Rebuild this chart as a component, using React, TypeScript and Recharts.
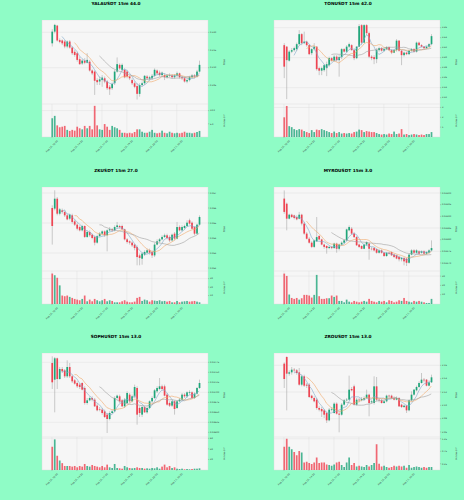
import React from "react";
import { ComposedChart, Bar, Line, XAxis, YAxis, CartesianGrid } from "recharts";

// 60 candles of 15m each, axis ticks every 10 candles
const TIME_TICKS = [0, 10, 20, 30, 40, 50];
const TIME_LABELS = ["Aug 16, 12:00", "Aug 16, 14:30", "Aug 16, 17:00", "Aug 16, 19:30", "Aug 16, 22:00", "Aug 17, 00:30"];

const YALA_OPEN = [0.2169,0.2202,0.2219,0.2178,0.2177,0.2174,0.2160,0.2174,0.2157,0.2145,0.2141,0.2124,0.2112,0.2120,0.2114,0.2117,0.2092,0.2089,0.2065,0.2061,0.2065,0.2070,0.2061,0.2046,0.2042,0.2056,0.2089,0.2108,0.2094,0.2094,0.2089,0.2075,0.2065,0.2056,0.2048,0.2026,0.2051,0.2056,0.2075,0.2069,0.2070,0.2077,0.2092,0.2086,0.2079,0.2079,0.2073,0.2077,0.2078,0.2073,0.2078,0.2084,0.2073,0.2070,0.2061,0.2065,0.2073,0.2078,0.2075,0.2089];
const YALA_CLOSE = [0.2202,0.2221,0.2177,0.2173,0.2169,0.2160,0.2174,0.2157,0.2141,0.2136,0.2122,0.2110,0.2120,0.2114,0.2122,0.2092,0.2084,0.2063,0.2059,0.2067,0.2072,0.2061,0.2042,0.2039,0.2054,0.2089,0.2110,0.2098,0.2108,0.2073,0.2075,0.2070,0.2056,0.2046,0.2026,0.2051,0.2056,0.2077,0.2070,0.2073,0.2077,0.2094,0.2084,0.2079,0.2086,0.2073,0.2078,0.2079,0.2073,0.2078,0.2084,0.2073,0.2070,0.2061,0.2065,0.2073,0.2078,0.2075,0.2089,0.2108];
const YALA_HIGH = [0.2209,0.2224,0.2221,0.2183,0.2180,0.2178,0.2177,0.2178,0.2160,0.2150,0.2145,0.2131,0.2124,0.2127,0.2141,0.2122,0.2095,0.2092,0.2070,0.2075,0.2079,0.2075,0.2065,0.2051,0.2058,0.2094,0.2129,0.2112,0.2112,0.2098,0.2094,0.2079,0.2070,0.2061,0.2056,0.2056,0.2061,0.2079,0.2079,0.2077,0.2082,0.2098,0.2095,0.2092,0.2089,0.2084,0.2082,0.2084,0.2082,0.2082,0.2089,0.2086,0.2077,0.2075,0.2069,0.2077,0.2082,0.2082,0.2094,0.2120];
const YALA_LOW = [0.2160,0.2197,0.2174,0.2169,0.2164,0.2155,0.2155,0.2154,0.2136,0.2131,0.2117,0.2108,0.2108,0.2110,0.2112,0.2089,0.2079,0.2023,0.2051,0.2051,0.2046,0.2056,0.2037,0.2023,0.2037,0.2051,0.2086,0.2094,0.2089,0.2070,0.2070,0.2065,0.2051,0.2042,0.2010,0.2018,0.2046,0.2051,0.2065,0.2063,0.2065,0.2073,0.2079,0.2075,0.2073,0.2065,0.2069,0.2073,0.2069,0.2069,0.2073,0.2069,0.2065,0.2058,0.2056,0.2061,0.2070,0.2070,0.2072,0.2086];
const YALA_VOL = [7.1,8.0,4.4,3.7,3.9,4.2,2.7,2.3,2.7,2.4,3.9,3.3,2.9,4.2,3.3,4.2,2.9,11.8,4.4,2.9,2.7,4.9,3.9,2.7,4.2,3.7,3.3,2.7,1.6,1.6,1.4,1.6,1.4,1.9,2.9,2.9,2.0,1.6,1.6,2.0,2.7,1.6,1.4,1.6,2.4,1.6,1.4,2.0,1.6,1.4,1.6,1.4,1.6,2.0,1.6,1.6,1.4,1.6,1.9,2.3];

const TON_OPEN = [3.425,3.422,3.394,3.412,3.415,3.417,3.427,3.447,3.429,3.432,3.425,3.409,3.417,3.422,3.379,3.374,3.375,3.379,3.385,3.399,3.394,3.402,3.395,3.401,3.417,3.412,3.422,3.425,3.415,3.399,3.422,3.465,3.430,3.465,3.449,3.402,3.401,3.397,3.415,3.419,3.414,3.417,3.421,3.415,3.410,3.415,3.434,3.414,3.405,3.410,3.407,3.414,3.417,3.412,3.430,3.425,3.422,3.419,3.422,3.427];
const TON_CLOSE = [3.382,3.395,3.412,3.415,3.419,3.427,3.447,3.429,3.432,3.425,3.407,3.417,3.422,3.377,3.374,3.379,3.385,3.387,3.399,3.394,3.402,3.395,3.401,3.417,3.412,3.422,3.427,3.415,3.399,3.422,3.463,3.430,3.465,3.449,3.402,3.399,3.397,3.415,3.419,3.414,3.417,3.421,3.415,3.410,3.415,3.434,3.414,3.405,3.410,3.407,3.414,3.417,3.412,3.430,3.425,3.422,3.419,3.422,3.427,3.443];
const TON_HIGH = [3.429,3.423,3.415,3.419,3.422,3.430,3.455,3.449,3.452,3.434,3.427,3.419,3.429,3.423,3.382,3.382,3.387,3.392,3.402,3.401,3.405,3.405,3.405,3.419,3.419,3.425,3.430,3.427,3.419,3.423,3.467,3.467,3.467,3.467,3.452,3.405,3.405,3.419,3.422,3.421,3.419,3.423,3.422,3.417,3.417,3.437,3.435,3.415,3.412,3.412,3.415,3.419,3.419,3.432,3.432,3.427,3.423,3.423,3.429,3.447];
const TON_LOW = [3.359,3.317,3.392,3.409,3.412,3.414,3.425,3.425,3.427,3.422,3.405,3.405,3.414,3.374,3.365,3.365,3.372,3.363,3.382,3.392,3.392,3.392,3.362,3.397,3.410,3.410,3.419,3.414,3.395,3.397,3.421,3.427,3.429,3.445,3.399,3.395,3.387,3.389,3.412,3.412,3.412,3.415,3.414,3.407,3.409,3.412,3.412,3.385,3.402,3.405,3.405,3.412,3.410,3.410,3.423,3.421,3.417,3.417,3.421,3.425];
const TON_VOL = [2.0,3.15,1.1,1.0,0.8,0.7,0.8,0.75,0.6,0.5,0.4,0.7,0.5,0.75,0.7,0.8,0.7,0.6,0.5,0.4,0.55,0.4,0.5,0.35,0.4,0.35,0.4,0.35,0.5,0.55,0.75,0.7,0.5,0.6,0.55,0.5,0.5,0.4,0.3,0.25,0.3,0.25,0.35,0.3,0.55,0.3,0.35,0.8,0.25,0.3,0.2,0.25,0.3,0.25,0.2,0.25,0.2,0.3,0.3,0.5];

const ZK_OPEN = [0.06600,0.06596,0.06662,0.06562,0.06584,0.06573,0.06551,0.06529,0.06551,0.06511,0.06489,0.06473,0.06451,0.06480,0.06407,0.06440,0.06422,0.06407,0.06369,0.06413,0.06429,0.06444,0.06418,0.06451,0.06458,0.06451,0.06473,0.06480,0.06480,0.06458,0.06391,0.06378,0.06369,0.06356,0.06340,0.06284,0.06262,0.06289,0.06302,0.06318,0.06307,0.06284,0.06356,0.06378,0.06391,0.06407,0.06418,0.06407,0.06384,0.06429,0.06396,0.06473,0.06451,0.06467,0.06480,0.06518,0.06502,0.06473,0.06429,0.06489];
const ZK_CLOSE = [0.06480,0.06662,0.06562,0.06591,0.06573,0.06551,0.06524,0.06556,0.06507,0.06489,0.06462,0.06451,0.06480,0.06407,0.06440,0.06418,0.06400,0.06369,0.06413,0.06429,0.06444,0.06418,0.06451,0.06458,0.06451,0.06473,0.06484,0.06473,0.06458,0.06391,0.06373,0.06369,0.06351,0.06333,0.06273,0.06267,0.06296,0.06307,0.06318,0.06302,0.06284,0.06356,0.06378,0.06391,0.06407,0.06418,0.06400,0.06384,0.06422,0.06396,0.06473,0.06451,0.06473,0.06480,0.06502,0.06496,0.06462,0.06429,0.06489,0.06540];
const ZK_HIGH = [0.06618,0.06718,0.06673,0.06600,0.06596,0.06584,0.06562,0.06562,0.06562,0.06524,0.06502,0.06484,0.06489,0.06484,0.06451,0.06451,0.06429,0.06418,0.06422,0.06440,0.06451,0.06451,0.06458,0.06473,0.06467,0.06484,0.06507,0.06489,0.06489,0.06462,0.06400,0.06384,0.06378,0.06362,0.06351,0.06296,0.06302,0.06318,0.06329,0.06329,0.06318,0.06369,0.06391,0.06400,0.06418,0.06429,0.06429,0.06418,0.06429,0.06440,0.06507,0.06484,0.06484,0.06489,0.06518,0.06529,0.06511,0.06480,0.06496,0.06551];
const ZK_LOW = [0.06356,0.06584,0.06551,0.06551,0.06562,0.06540,0.06518,0.06518,0.06496,0.06480,0.06451,0.06444,0.06444,0.06400,0.06400,0.06407,0.06391,0.06351,0.06362,0.06407,0.06418,0.06407,0.06311,0.06444,0.06440,0.06444,0.06462,0.06462,0.06451,0.06384,0.06362,0.06356,0.06340,0.06318,0.06218,0.06218,0.06222,0.06280,0.06296,0.06289,0.06267,0.06273,0.06351,0.06369,0.06384,0.06400,0.06391,0.06373,0.06378,0.06384,0.06391,0.06444,0.06444,0.06458,0.06473,0.06489,0.06458,0.06418,0.06422,0.06484];
const ZK_VOL = [36,34,31,22,10,9.2,10,8.4,7.2,6.0,5.2,4.4,6.0,10,3.2,5.2,3.2,6.0,4.4,3.2,4.4,6.0,3.2,4.4,3.6,2.0,2.0,2.0,3.2,4.4,2.8,2.0,2.0,2.8,7.2,8.4,3.6,5.2,4.4,2.8,4.4,4.0,3.6,4.4,3.2,3.6,2.8,3.6,2.0,2.0,3.6,2.0,2.8,3.2,3.6,2.8,3.2,3.6,2.8,2.0];

const MYRO_OPEN = [0.022976,0.022954,0.022890,0.022907,0.022904,0.022897,0.022890,0.022907,0.022869,0.022826,0.022804,0.022787,0.022769,0.022793,0.022816,0.022801,0.022779,0.022773,0.022764,0.022769,0.022764,0.022783,0.022761,0.022779,0.022787,0.022797,0.022840,0.022847,0.022826,0.022811,0.022779,0.022773,0.022761,0.022779,0.022783,0.022761,0.022764,0.022759,0.022744,0.022754,0.022744,0.022730,0.022744,0.022747,0.022736,0.022733,0.022726,0.022716,0.022721,0.022719,0.022701,0.022736,0.022754,0.022744,0.022750,0.022744,0.022750,0.022740,0.022744,0.022754];
const MYRO_CLOSE = [0.022919,0.022890,0.022907,0.022897,0.022893,0.022887,0.022907,0.022869,0.022826,0.022804,0.022787,0.022769,0.022797,0.022811,0.022801,0.022779,0.022769,0.022764,0.022769,0.022764,0.022783,0.022761,0.022779,0.022787,0.022797,0.022844,0.022854,0.022826,0.022811,0.022776,0.022769,0.022761,0.022779,0.022790,0.022761,0.022759,0.022754,0.022744,0.022754,0.022744,0.022730,0.022744,0.022740,0.022733,0.022726,0.022719,0.022716,0.022721,0.022707,0.022701,0.022736,0.022754,0.022744,0.022754,0.022740,0.022750,0.022740,0.022747,0.022754,0.022764];
const MYRO_HIGH = [0.023011,0.022959,0.022911,0.022911,0.022907,0.022904,0.022919,0.022911,0.022876,0.022833,0.022811,0.022793,0.022801,0.022897,0.022819,0.022804,0.022783,0.022776,0.022773,0.022773,0.022787,0.022787,0.022783,0.022793,0.022801,0.022847,0.022861,0.022854,0.022833,0.022816,0.022783,0.022776,0.022783,0.022793,0.022787,0.022769,0.022769,0.022761,0.022759,0.022759,0.022747,0.022747,0.022747,0.022750,0.022740,0.022736,0.022730,0.022726,0.022726,0.022721,0.022740,0.022759,0.022759,0.022759,0.022754,0.022754,0.022754,0.022750,0.022759,0.022797];
const MYRO_LOW = [0.022911,0.022840,0.022887,0.022893,0.022887,0.022883,0.022887,0.022861,0.022821,0.022801,0.022783,0.022764,0.022764,0.022790,0.022797,0.022776,0.022761,0.022740,0.022759,0.022759,0.022761,0.022744,0.022754,0.022776,0.022783,0.022793,0.022836,0.022821,0.022807,0.022773,0.022764,0.022759,0.022759,0.022773,0.022714,0.022754,0.022750,0.022740,0.022740,0.022740,0.022726,0.022726,0.022736,0.022730,0.022721,0.022716,0.022707,0.022707,0.022690,0.022687,0.022697,0.022733,0.022740,0.022740,0.022736,0.022740,0.022736,0.022736,0.022740,0.022750];
const MYRO_VOL = [32.7,30.2,10.2,6.5,5.5,6.5,4.7,6.2,9.8,9.8,9.1,6.9,9.8,31.3,8.4,5.5,5.5,6.2,6.2,9.1,7.6,9.1,3.3,3.3,1.8,4.7,2.5,1.8,3.3,2.5,1.8,2.5,3.3,2.5,5.5,3.3,2.5,1.8,3.3,2.5,3.3,1.8,4.0,3.3,1.8,2.5,4.0,3.3,6.5,3.3,2.5,1.8,3.3,2.5,3.3,2.5,1.8,1.1,1.1,5.5];

const SOPH_OPEN = [0.037733,0.037317,0.037850,0.037333,0.037583,0.037550,0.037400,0.037633,0.037400,0.037300,0.037233,0.037192,0.037233,0.037108,0.036733,0.036800,0.036858,0.036817,0.036667,0.036583,0.036567,0.036525,0.036442,0.036333,0.036483,0.036525,0.036858,0.036900,0.036800,0.036650,0.036733,0.036942,0.036775,0.036900,0.037108,0.036608,0.036442,0.036633,0.036500,0.036608,0.036775,0.036858,0.037025,0.037083,0.037150,0.037150,0.036942,0.036733,0.036667,0.036775,0.036608,0.036775,0.036817,0.036942,0.036900,0.036983,0.037000,0.036858,0.036967,0.037108];
const SOPH_CLOSE = [0.037250,0.037850,0.037333,0.037583,0.037525,0.037400,0.037633,0.037400,0.037275,0.037217,0.037150,0.037133,0.037067,0.036733,0.036800,0.036858,0.036817,0.036650,0.036550,0.036567,0.036483,0.036383,0.036333,0.036483,0.036525,0.036858,0.036917,0.036775,0.036650,0.036817,0.036983,0.036775,0.036900,0.037133,0.036442,0.036483,0.036633,0.036500,0.036608,0.036775,0.036858,0.037050,0.037108,0.037150,0.037083,0.036917,0.036692,0.036667,0.036775,0.036583,0.036775,0.036817,0.036942,0.036900,0.037000,0.037000,0.036858,0.036967,0.037108,0.037233];
const SOPH_HIGH = [0.037900,0.037883,0.037867,0.037633,0.037633,0.037583,0.037800,0.037733,0.037442,0.037333,0.037275,0.037233,0.037250,0.037150,0.036858,0.036900,0.036900,0.036858,0.036717,0.036633,0.036608,0.036567,0.036483,0.036525,0.036567,0.036900,0.036942,0.036942,0.036833,0.036858,0.037025,0.036983,0.036942,0.037192,0.037150,0.036650,0.036667,0.036667,0.036650,0.036800,0.036900,0.037083,0.037150,0.037358,0.037192,0.037192,0.036983,0.036775,0.036800,0.036800,0.036800,0.036858,0.036983,0.036983,0.037025,0.037050,0.037025,0.037000,0.037133,0.037317];
const SOPH_LOW = [0.037083,0.036500,0.037083,0.037317,0.037483,0.037358,0.037358,0.037358,0.037233,0.037192,0.037108,0.037083,0.037050,0.036692,0.036692,0.036775,0.036775,0.036633,0.036525,0.036525,0.036442,0.036358,0.035983,0.036300,0.036467,0.036500,0.036817,0.036733,0.036633,0.036608,0.036692,0.036733,0.036750,0.036858,0.036192,0.036383,0.036383,0.036483,0.036467,0.036583,0.036733,0.036833,0.036983,0.037050,0.037050,0.036900,0.036667,0.036633,0.036633,0.036442,0.036583,0.036750,0.036800,0.036858,0.036858,0.036942,0.036833,0.036833,0.036942,0.037083];
const SOPH_VOL = [44,58,27,18,13,7.6,7.6,7.6,6.4,7.6,5.1,7.6,6.4,11.4,7.6,6.4,9.5,7.6,6.4,5.1,7.6,5.1,10.2,5.1,3.8,11.4,3.8,3.2,2.5,7.6,5.1,3.8,3.2,3.8,5.1,3.8,3.8,2.5,3.2,2.5,3.8,3.2,5.1,2.5,6.4,10.2,5.1,7.6,3.8,5.1,2.5,1.9,2.5,1.3,1.9,1.3,1.9,2.5,2.5,3.2];

const ZRO_OPEN = [2.1625,2.1725,2.1475,2.1495,2.1535,2.1525,2.1495,2.1310,2.1435,2.1310,2.1310,2.1145,2.1110,2.1085,2.0960,2.0945,2.0925,2.0885,2.0775,2.0935,2.0885,2.1025,2.0875,2.0860,2.1010,2.1075,2.1085,2.1245,2.1285,2.1010,2.1085,2.1075,2.1085,2.1110,2.1160,2.1045,2.1035,2.1285,2.1085,2.1075,2.1035,2.1060,2.1145,2.1145,2.1110,2.1085,2.1110,2.1010,2.0975,2.0995,2.0925,2.1075,2.1160,2.1225,2.1275,2.1335,2.1385,2.1385,2.1295,2.1345];
const ZRO_CLOSE = [2.1395,2.1475,2.1495,2.1535,2.1525,2.1485,2.1310,2.1435,2.1295,2.1295,2.1125,2.1110,2.1060,2.0960,2.0935,2.0910,2.0860,2.0775,2.0935,2.0945,2.1025,2.0875,2.0860,2.1010,2.1075,2.1085,2.1235,2.1225,2.1010,2.1085,2.1075,2.1095,2.1110,2.1160,2.1035,2.1060,2.1285,2.1085,2.1075,2.1035,2.1060,2.1145,2.1135,2.1110,2.1085,2.1110,2.0985,2.0975,2.0995,2.0925,2.1075,2.1160,2.1235,2.1275,2.1335,2.1385,2.1375,2.1295,2.1345,2.1420];
const ZRO_HIGH = [2.1645,2.1735,2.1525,2.1575,2.1560,2.1545,2.1560,2.1460,2.1460,2.1335,2.1335,2.1160,2.1135,2.1110,2.0985,2.0975,2.0945,2.0910,2.0960,2.0975,2.1045,2.1045,2.0910,2.1035,2.1095,2.1110,2.1445,2.1275,2.1310,2.1110,2.1110,2.1125,2.1135,2.1235,2.1175,2.1085,2.1435,2.1425,2.1110,2.1095,2.1085,2.1160,2.1160,2.1160,2.1135,2.1135,2.1125,2.1025,2.1010,2.1010,2.1085,2.1210,2.1245,2.1295,2.1360,2.1485,2.1410,2.1395,2.1375,2.1460];
const ZRO_LOW = [2.1260,2.0925,2.1445,2.1460,2.1495,2.1460,2.1295,2.1285,2.1275,2.1260,2.1110,2.1085,2.1045,2.0935,2.0910,2.0825,2.0810,2.0735,2.0760,2.0910,2.0875,2.0860,2.0595,2.0845,2.0995,2.1060,2.1075,2.1210,2.0995,2.0995,2.1045,2.1060,2.1075,2.1095,2.0835,2.1025,2.1010,2.1060,2.1045,2.1025,2.1025,2.1045,2.1110,2.1095,2.1075,2.1075,2.0975,2.0960,2.0960,2.0885,2.0910,2.1060,2.1145,2.1210,2.1260,2.1325,2.1345,2.1285,2.1285,2.1335];
const ZRO_VOL = [0.93,1.25,0.93,0.83,0.72,0.59,0.76,0.70,0.30,0.33,0.28,0.24,0.30,0.50,0.28,0.30,0.30,0.22,0.20,0.17,0.22,0.30,0.33,0.20,0.12,0.30,0.50,0.20,0.28,0.14,0.17,0.14,0.12,0.20,0.14,0.20,0.28,1.03,0.25,0.14,0.17,0.12,0.09,0.12,0.17,0.14,0.17,0.14,0.17,0.09,0.20,0.09,0.12,0.14,0.12,0.09,0.12,0.09,0.12,0.12];

const UP = "#1fa67a";
const DOWN = "#ef4452";
const WICK = "#9a9a9a";
const MA_COLORS = ["#7fa7c9", "#f0a868", "#a0a0a0"];
const FONT = "DejaVu Sans";
const BODY_W = 1.7;

const panels = [
  { title: "YALAUSDT 15m 44.0", open: YALA_OPEN, high: YALA_HIGH, low: YALA_LOW, close: YALA_CLOSE, vol: YALA_VOL,
    priceDomain: [0.19973, 0.22349], priceTicks: [0.205, 0.21, 0.215, 0.22], priceDec: 3,
    volDomain: [0, 12.5], volTicks: [2.5, 5, 7.5, 10], volDec: 1 },
  { title: "TONUSDT 15m 42.0", open: TON_OPEN, high: TON_HIGH, low: TON_LOW, close: TON_CLOSE, vol: TON_VOL,
    priceDomain: [3.3073, 3.4753], priceTicks: [3.32, 3.34, 3.36, 3.38, 3.4, 3.42, 3.44, 3.46], priceDec: 2,
    volDomain: [0, 3.35], volTicks: [1, 2, 3], volDec: 0 },
  { title: "ZKUSDT 15m 27.0", open: ZK_OPEN, high: ZK_HIGH, low: ZK_LOW, close: ZK_CLOSE, vol: ZK_VOL,
    priceDomain: [0.0618, 0.0674], priceTicks: [0.062, 0.063, 0.064, 0.065, 0.066, 0.067], priceDec: 3,
    volDomain: [0, 39], volTicks: [10, 20, 30], volDec: 0 },
  { title: "MYROUSDT 15m 3.0", open: MYRO_OPEN, high: MYRO_HIGH, low: MYRO_LOW, close: MYRO_CLOSE, vol: MYRO_VOL,
    priceDomain: [0.0226657, 0.0230257], priceTicks: [0.0227, 0.02275, 0.0228, 0.02285, 0.0229, 0.02295, 0.023], priceDec: 5,
    volDomain: [0, 35.5], volTicks: [10, 20, 30], volDec: 0 },
  { title: "SOPHUSDT 15m 13.0", open: SOPH_OPEN, high: SOPH_HIGH, low: SOPH_LOW, close: SOPH_CLOSE, vol: SOPH_VOL,
    priceDomain: [0.035883, 0.037983], priceTicks: [0.036, 0.03625, 0.0365, 0.03675, 0.037, 0.03725, 0.0375, 0.03775], priceDec: 5,
    volDomain: [0, 62.5], volTicks: [20, 40, 60], volDec: 0 },
  { title: "ZROUSDT 15m 13.0", open: ZRO_OPEN, high: ZRO_HIGH, low: ZRO_LOW, close: ZRO_CLOSE, vol: ZRO_VOL,
    priceDomain: [2.0525, 2.1785], priceTicks: [2.06, 2.08, 2.1, 2.12, 2.14, 2.16], priceDec: 2,
    volDomain: [0, 1.32], volTicks: [0.25, 0.5, 0.75, 1, 1.25], volDec: 2 },
];

// simple moving average of closes, like mplfinance mav
function sma(closes: number[], n: number, i: number) {
  if (i < n - 1) return null;
  let s = 0;
  for (let k = i - n + 1; k <= i; k++) s += closes[k];
  return s / n;
}

function buildRows(p: any) {
  return p.close.map((c: number, i: number) => ({
    i,
    open: p.open[i],
    high: p.high[i],
    low: p.low[i],
    close: c,
    range: [p.low[i], p.high[i]],
    vol: p.vol[i],
    up: c >= p.open[i],
    ma5: sma(p.close, 5, i),
    ma10: sma(p.close, 10, i),
    ma20: sma(p.close, 20, i),
  }));
}

function Candle(props: any) {
  const { x, y, width, height, payload } = props;
  if (x == null || !payload) return null;
  const top = Math.min(y, y + height);
  const h = Math.abs(height);
  const span = payload.high - payload.low;
  const at = (v: number) => (span > 0 ? top + ((payload.high - v) / span) * h : top);
  const bodyTop = at(Math.max(payload.open, payload.close));
  const bodyBot = at(Math.min(payload.open, payload.close));
  const cx = x + width / 2;
  return (
    <g>
      <line x1={cx} x2={cx} y1={top} y2={top + h} stroke={WICK} strokeWidth={0.5} />
      <rect x={cx - BODY_W / 2} y={bodyTop} width={BODY_W} height={Math.max(bodyBot - bodyTop, 0.4)} fill={payload.up ? UP : DOWN} />
    </g>
  );
}

function VolBar(props: any) {
  const { x, y, width, height, payload } = props;
  if (x == null || !payload) return null;
  const cx = x + width / 2;
  return (
    <rect x={cx - BODY_W / 2} y={Math.min(y, y + height)} width={BODY_W} height={Math.abs(height)}
      fill={payload.up ? UP : DOWN} fillOpacity={0.8} />
  );
}

function TimeTick(props: any) {
  const { x, y, payload } = props;
  const label = TIME_LABELS[TIME_TICKS.indexOf(payload.value)];
  return (
    <text transform={`translate(${x},${y + 8.5}) rotate(-45)`} textAnchor="middle" dominantBaseline="central"
      fontSize={2.3} fill="#333" fontFamily={FONT}>
      {label}
    </text>
  );
}

const X_DOMAIN = [-4, 62.5];
const tickStyle = { fontSize: 2.2, fill: "#333", fontFamily: FONT };

function Panel({ p, left, top }: { p: any; left: number; top: number }) {
  const rows = buildRows(p);
  return (
    <div style={{ position: "absolute", left, top, width: 232, height: 166 }}>
      <div style={{ position: "absolute", left: 0, top: 1, width: 232, textAlign: "center", fontFamily: FONT,
        fontWeight: "bold", fontSize: 4.3, lineHeight: "5px", color: "#000" }}>
        {p.title}
      </div>
      <div style={{ position: "absolute", left: 0, top: 20 }}>
        <ComposedChart width={232} height={84} data={rows} margin={{ top: 0, right: 0, bottom: 0, left: 42 }}>
          <CartesianGrid fill="#f6f6f6" stroke="#dcdcdc" strokeWidth={0.4} />
          <XAxis type="number" dataKey="i" domain={X_DOMAIN} ticks={TIME_TICKS} allowDataOverflow
            tick={false} tickLine={false} axisLine={false} height={0} />
          <YAxis orientation="right" width={24} domain={p.priceDomain} ticks={p.priceTicks} allowDataOverflow
            axisLine={false} tickSize={1.2} tickMargin={0.8} tickLine={{ stroke: "#666", strokeWidth: 0.3 }}
            tick={tickStyle} tickFormatter={(v: number) => v.toFixed(p.priceDec)}
            label={{ value: "Price", angle: -90, position: "center", fontSize: 2.4, fill: "#333", fontFamily: FONT, dx: 4 }} />
          <Bar dataKey="range" shape={<Candle />} barSize={1} isAnimationActive={false} />
          <Line dataKey="ma5" stroke={MA_COLORS[0]} strokeWidth={0.6} dot={false} isAnimationActive={false} />
          <Line dataKey="ma10" stroke={MA_COLORS[1]} strokeWidth={0.6} dot={false} isAnimationActive={false} />
          <Line dataKey="ma20" stroke={MA_COLORS[2]} strokeWidth={0.6} dot={false} isAnimationActive={false} />
        </ComposedChart>
      </div>
      <div style={{ position: "absolute", left: 0, top: 104 }}>
        <ComposedChart width={232} height={53} data={rows} margin={{ top: 0, right: 0, bottom: 0, left: 42 }}>
          <CartesianGrid fill="#f6f6f6" stroke="#dcdcdc" strokeWidth={0.4} />
          <XAxis type="number" dataKey="i" domain={X_DOMAIN} ticks={TIME_TICKS} allowDataOverflow
            height={20} axisLine={false} tickSize={1} tickMargin={0} tickLine={{ stroke: "#666", strokeWidth: 0.3 }}
            tick={<TimeTick />} interval={0} />
          <YAxis orientation="right" width={24} domain={p.volDomain} ticks={p.volTicks} allowDataOverflow
            axisLine={false} tickSize={1.2} tickMargin={0.8} tickLine={{ stroke: "#666", strokeWidth: 0.3 }}
            tick={tickStyle} tickFormatter={(v: number) => v.toFixed(p.volDec)}
            label={{ value: "Volume  10⁶", angle: -90, position: "center", fontSize: 2.2, fill: "#333", fontFamily: FONT, dx: 4 }} />
          <Bar dataKey="vol" shape={<VolBar />} barSize={1} isAnimationActive={false} />
        </ComposedChart>
      </div>
    </div>
  );
}

export default function App() {
  return (
    <div style={{ position: "absolute", left: 0, top: 0, width: 464, height: 500, background: "#8ffcc6", overflow: "hidden" }}>
      {panels.map((p, k) => (
        <Panel key={p.title} p={p} left={(k % 2) * 232} top={Math.floor(k / 2) * (500 / 3)} />
      ))}
    </div>
  );
}
